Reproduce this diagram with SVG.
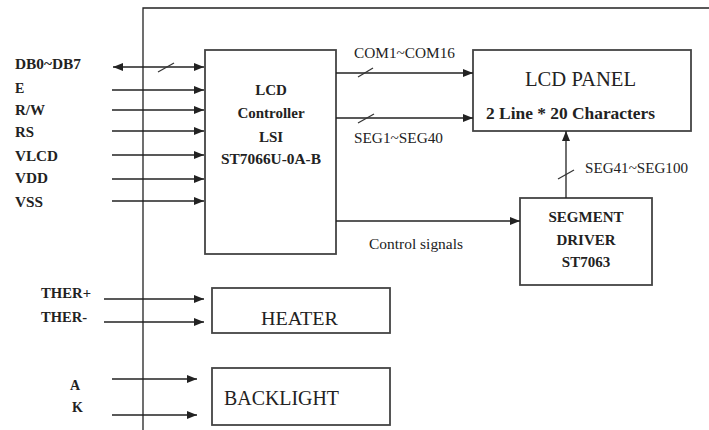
<svg xmlns="http://www.w3.org/2000/svg" width="709" height="430" viewBox="0 0 709 430" font-family="Liberation Serif, Times New Roman, serif">
<defs>
<marker id="ah" viewBox="0 0 10 8" refX="10" refY="4" markerWidth="10" markerHeight="8" markerUnits="userSpaceOnUse" orient="auto-start-reverse">
<path d="M0,0 L10,4 L0,8 Z" fill="#222"/>
</marker>
<style>
.box{fill:#fff;stroke:#444;stroke-width:1.8}
.ln{fill:none;stroke:#222;stroke-width:1.3}
.ar{fill:none;stroke:#222;stroke-width:1.3;marker-end:url(#ah)}
.sl{fill:none;stroke:#333;stroke-width:1.2}
text{fill:#222}
.b{font-weight:bold}
</style>
</defs>
<rect width="709" height="430" fill="#fff"/>
<g id="frame">
<path class="ln" d="M143,430 V8 H709"/>
</g>
<g id="pins" font-size="14" font-family="Liberation Serif, serif">
<text class="b" x="15" y="69" textLength="66" lengthAdjust="spacingAndGlyphs">DB0~DB7</text>
<text class="b" x="15" y="93">E</text>
<text class="b" x="15" y="115" textLength="30" lengthAdjust="spacingAndGlyphs">R/W</text>
<text class="b" x="15" y="137" textLength="19" lengthAdjust="spacingAndGlyphs">RS</text>
<text class="b" x="15" y="161" textLength="43" lengthAdjust="spacingAndGlyphs">VLCD</text>
<text class="b" x="15" y="183" textLength="33" lengthAdjust="spacingAndGlyphs">VDD</text>
<text class="b" x="15" y="207" textLength="28" lengthAdjust="spacingAndGlyphs">VSS</text>
<text class="b" x="41" y="298" textLength="50" lengthAdjust="spacingAndGlyphs">THER+</text>
<text class="b" x="41" y="322" textLength="46" lengthAdjust="spacingAndGlyphs">THER-</text>
<text class="b" x="70" y="390">A</text>
<text class="b" x="72" y="412">K</text>
</g>
<g id="controller">
<rect class="box" x="205" y="50" width="131" height="204"/>
<g font-size="15" text-anchor="middle" font-family="Liberation Serif, serif">
<text class="b" x="271" y="95">LCD</text>
<text class="b" x="271" y="118">Controller</text>
<text class="b" x="271" y="142">LSI</text>
<text class="b" x="271" y="164" textLength="100" lengthAdjust="spacingAndGlyphs">ST7066U-0A-B</text>
</g>
</g>
<g id="lcd-panel" font-family="Liberation Serif, serif">
<rect class="box" x="473" y="50" width="218" height="81"/>
<text x="525" y="86" font-size="20" textLength="111" lengthAdjust="spacingAndGlyphs">LCD PANEL</text>
<text class="b" x="486" y="119" font-size="16" textLength="169" lengthAdjust="spacingAndGlyphs">2 Line * 20 Characters</text>
</g>
<g id="segment-driver">
<rect class="box" x="520" y="198" width="132" height="87"/>
<g font-size="15" text-anchor="middle" font-family="Liberation Serif, serif">
<text class="b" x="586" y="222">SEGMENT</text>
<text class="b" x="586" y="245">DRIVER</text>
<text class="b" x="586" y="267">ST7063</text>
</g>
</g>
<g id="heater" font-family="Liberation Serif, serif">
<rect class="box" x="212" y="288" width="178" height="45"/>
<text x="261" y="325" font-size="19" textLength="77" lengthAdjust="spacingAndGlyphs">HEATER</text>
</g>
<g id="backlight" font-family="Liberation Serif, serif">
<rect class="box" x="212" y="368" width="178" height="57"/>
<text x="224" y="405" font-size="20" textLength="115" lengthAdjust="spacingAndGlyphs">BACKLIGHT</text>
</g>
<g id="connectors">
<path class="ar" d="M113,67 H204" marker-start="url(#ah)"/>
<path class="sl" d="M158,72 L174,63"/>
<path class="ar" d="M112,90 H204"/>
<path class="ar" d="M112,110 H204"/>
<path class="ar" d="M112,131 H204"/>
<path class="ar" d="M112,155 H204"/>
<path class="ar" d="M112,179 H204"/>
<path class="ar" d="M112,201 H204"/>
<path class="ar" d="M336,73 H473"/>
<path class="sl" d="M358,77 L373,68"/>
<path class="ar" d="M336,118 H473"/>
<path class="sl" d="M358,123 L374,114"/>
<path class="ar" d="M336,221 H520"/>
<path class="ar" d="M566,198 V131"/>
<path class="sl" d="M558,179 L574,170"/>
<path class="ar" d="M104,299 H204"/>
<path class="ar" d="M104,322 H204"/>
<path class="ar" d="M112,379 H197"/>
<path class="ar" d="M112,415 H197"/>
<g font-size="15" font-family="Liberation Serif, serif">
<text x="354" y="58" textLength="101" lengthAdjust="spacingAndGlyphs">COM1~COM16</text>
<text x="354" y="143" textLength="89" lengthAdjust="spacingAndGlyphs">SEG1~SEG40</text>
<text x="585" y="173" textLength="103" lengthAdjust="spacingAndGlyphs">SEG41~SEG100</text>
<text x="369" y="249" textLength="94" lengthAdjust="spacingAndGlyphs">Control signals</text>
</g>
</g>
</svg>
